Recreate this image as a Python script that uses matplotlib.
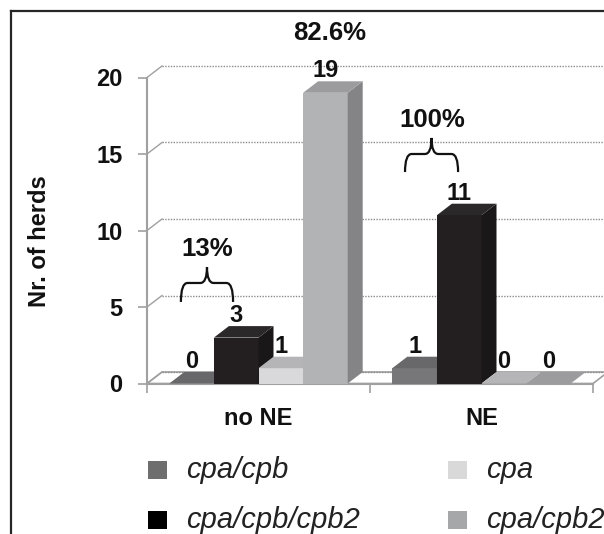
import matplotlib
matplotlib.use("Agg")
import numpy as np
import matplotlib.pyplot as plt
from matplotlib.lines import Line2D
from matplotlib.patches import Polygon, Rectangle, PathPatch
from matplotlib.path import Path

plt.rcParams["font.family"] = ["Liberation Sans", "DejaVu Sans"]
plt.rcParams["font.weight"] = "bold"

# herd counts per toxin-gene profile, for herds without / with NE
groups = ["no NE", "NE"]
series = ["cpa/cpb", "cpa/cpb/cpb2", "cpa", "cpa/cpb2"]
cpa_cpb = [0, 1]
cpa_cpb_cpb2 = [3, 11]
cpa_only = [1, 0]
cpa_cpb2 = [19, 0]
values = [cpa_cpb, cpa_cpb_cpb2, cpa_only, cpa_cpb2]

# front, top, side shades of each 3-d column
faces = [
    ("#77777a", "#68686a", "#5a5a5c"),
    ("#231f20", "#2b2829", "#1a1718"),
    ("#d9d9db", "#b5b5b7", "#c2c2c4"),
    ("#b2b3b5", "#9c9c9e", "#848486"),
]
legend_colors = ["#6e6e6e", "#000000", "#d9d9d9", "#a5a7a8"]

W, H = 604, 534
fig = plt.figure(figsize=(W / 100, H / 100), dpi=100)
ax = fig.add_axes([147 / W, (H - 383.5) / H, 446 / W, 306 / H])
ax.set_xlim(0, 2)
ax.set_ylim(0, 20)

# depth of the 3-d box, in data units
dx = 15 * 2 / 446
dy = 11.5 * 20 / 306
grid_c = "#a0a0a0"

# floor and back-wall gridlines
floor = Polygon([(0, 0), (2, 0), (2 + dx, dy), (dx, dy)], closed=True,
                facecolor="white", edgecolor=grid_c, lw=1.2, clip_on=False, zorder=1)
ax.add_patch(floor)
for v in range(0, 21, 5):
    ax.plot([dx, 2 + dx + 0.2], [v + dy, v + dy], color="#8c8c8c", lw=1.0,
            ls=(0, (1, 1)), clip_on=False, zorder=1)
    ax.plot([0, dx], [v, v + dy], color=grid_c, lw=1.0, clip_on=False, zorder=1)

# columns, drawn left to right so nearer faces cover hidden sides
w = 0.2
for g in range(len(groups)):
    for k, vals in enumerate(values):
        h = vals[g]
        x0 = g + 0.1 + k * w
        z = 3 + g * 10 + k * 2
        front, top, side = faces[k]
        ax.bar(x0, h, width=w, align="edge", color=front, zorder=z, clip_on=False)
        if h > 0:
            ax.add_patch(Polygon([(x0 + w, 0), (x0 + w + dx, dy), (x0 + w + dx, h + dy), (x0 + w, h)],
                                 closed=True, facecolor=side, edgecolor="none", zorder=z, clip_on=False))
        ax.add_patch(Polygon([(x0, h), (x0 + w, h), (x0 + w + dx, h + dy), (x0 + dx, h + dy)],
                             closed=True, facecolor=top, edgecolor="none", zorder=z, clip_on=False))
        ax.text(x0 + w / 2, h + dy + 0.25, str(h), ha="center", va="baseline",
                fontsize=17, fontweight="bold", color="#111111", zorder=40)

# axes styling
for s in ["top", "right"]:
    ax.spines[s].set_visible(False)
for s in ["left", "bottom"]:
    ax.spines[s].set_color(grid_c)
    ax.spines[s].set_linewidth(1.5)
    ax.spines[s].set_zorder(2)
ax.set_yticks(range(0, 21, 5))
ax.tick_params(axis="y", direction="out", length=6.5, width=1.2, color=grid_c,
               pad=11, labelsize=17, labelcolor="#111111")
ax.set_xticks([0, 1, 2])
ax.set_xticklabels([])
ax.set_xticks([0.5, 1.5], minor=True)
ax.set_xticklabels(groups, minor=True)
ax.tick_params(axis="x", which="major", direction="out", length=6.5, width=1.2, color=grid_c)
ax.tick_params(axis="x", which="minor", length=0, pad=17, labelsize=17, labelcolor="#111111")
ax.patch.set_visible(False)

fig.text(39 / W, 1 - 241 / H, "Nr. of herds", rotation=90, ha="center", va="center",
         fontsize=17, fontweight="bold", color="#111111")


def brace(x0, x1, y_tip, y_mid, y_peak, r=0.03):
    xm = (x0 + x1) / 2
    verts = [(x0, y_tip), (x0, y_mid), (x0 + r, y_mid), (xm - r, y_mid),
             (xm, y_mid), (xm, y_peak), (xm, y_mid), (xm + r, y_mid),
             (x1 - r, y_mid), (x1, y_mid), (x1, y_tip)]
    codes = [Path.MOVETO, Path.CURVE3, Path.CURVE3, Path.LINETO,
             Path.CURVE3, Path.CURVE3, Path.CURVE3, Path.CURVE3,
             Path.LINETO, Path.CURVE3, Path.CURVE3]
    ax.add_patch(PathPatch(Path(verts, codes), facecolor="none", edgecolor="#111111",
                           lw=1.6, clip_on=False, zorder=45))


# share annotations
brace(0.152, 0.386, 5.33, 6.57, 7.61)
ax.text(0.269, 8.79, "13%", ha="center", va="center", fontsize=18.5, fontweight="bold", color="#111111")
brace(1.157, 1.395, 13.82, 15.0, 16.05)
ax.text(1.28, 17.22, "100%", ha="center", va="center", fontsize=18.5, fontweight="bold", color="#111111")
ax.text(0.821, 22.9, "82.6%", ha="center", va="center", fontsize=18.5, fontweight="bold",
        color="#111111", clip_on=False)

# legend, two columns
leg_pos = [(148, 470), (148, 520), (448, 470), (448, 520)]
for (px, py), name, c in zip(leg_pos, series, legend_colors):
    fig.add_artist(Rectangle((px / W, 1 - (py + 9) / H), 19 / W, 18 / H,
                             transform=fig.transFigure, facecolor=c, edgecolor="none"))
    fig.text((px + 38) / W, 1 - py / H, name, ha="left", va="center", fontsize=21,
             fontstyle="italic", fontweight="normal", color="#222222")

# outer frame
fig.add_artist(Line2D([11 / W, 11 / W], [0, 1 - 11 / H], transform=fig.transFigure,
                      color="#262626", lw=1.6))
fig.add_artist(Line2D([11 / W, 1], [1 - 11 / H, 1 - 11 / H], transform=fig.transFigure,
                      color="#262626", lw=1.6))

fig.savefig("out.png", dpi=100)
